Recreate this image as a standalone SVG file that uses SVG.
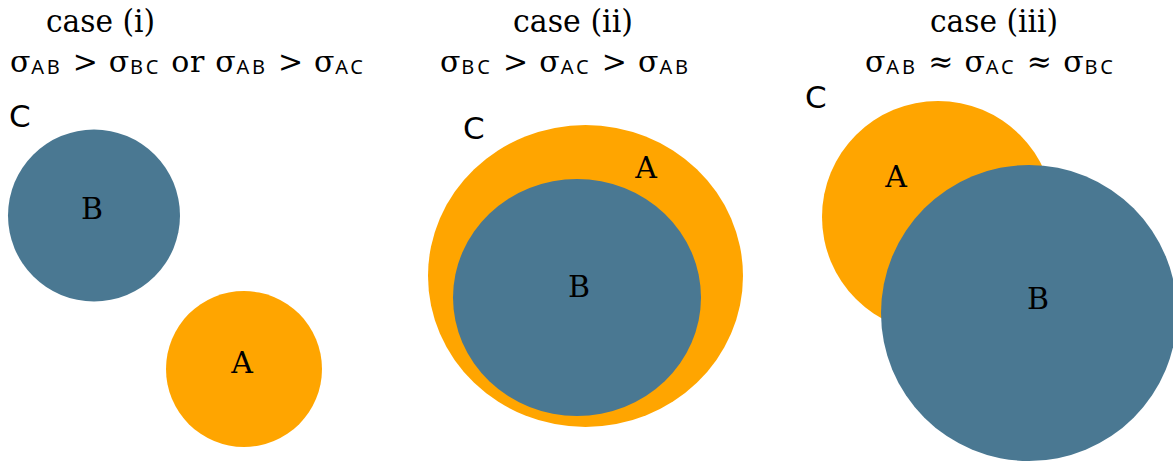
<svg xmlns="http://www.w3.org/2000/svg" width="1173" height="463" viewBox="0 0 1173 463">
<style>
.title{font-family:"DejaVu Serif","Liberation Serif",serif;font-size:31px;fill:#000}
.f{font-family:"DejaVu Serif","Liberation Serif",serif;font-size:30px;fill:#000}
.s{font-family:"Noto Sans","DejaVu Sans",sans-serif;font-size:20px;letter-spacing:2px}
.c{font-family:"DejaVu Sans","Liberation Sans",sans-serif;font-size:31px;fill:#000}
.lbl{font-family:"DejaVu Serif","Liberation Serif",serif;font-size:30px;fill:#000;text-anchor:middle}
.blue{fill:#4a7892}
.orange{fill:#ffa500}
</style>
<rect width="1173" height="463" fill="#fff"/>
<g id="case1">
<text class="title" x="46" y="32" textLength="109" lengthAdjust="spacingAndGlyphs">case (i)</text>
<text class="f" x="10" y="72" textLength="355" lengthAdjust="spacing">σ<tspan class="s" dy="2">AB</tspan><tspan dy="-2"> &gt; σ</tspan><tspan class="s" dy="2">BC</tspan><tspan dy="-2"> or σ</tspan><tspan class="s" dy="2">AB</tspan><tspan dy="-2"> &gt; σ</tspan><tspan class="s" dy="2">AC</tspan></text>
<text class="c" x="9" y="127">C</text>
<g id="c1-B"><circle class="blue" cx="94" cy="215.5" r="86"/><text class="lbl" x="92" y="219">B</text></g>
<g id="c1-A"><circle class="orange" cx="244" cy="369" r="78"/><text class="lbl" x="242" y="373">A</text></g>
</g>
<g id="case2">
<text class="title" x="513" y="32" textLength="120" lengthAdjust="spacingAndGlyphs">case (ii)</text>
<text class="f" x="440" y="72" textLength="250" lengthAdjust="spacing">σ<tspan class="s" dy="2">BC</tspan><tspan dy="-2"> &gt; σ</tspan><tspan class="s" dy="2">AC</tspan><tspan dy="-2"> &gt; σ</tspan><tspan class="s" dy="2">AB</tspan></text>
<text class="c" x="463" y="139">C</text>
<g id="c2-A"><ellipse class="orange" cx="585.5" cy="276" rx="157.5" ry="151"/><text class="lbl" x="646" y="178">A</text></g>
<g id="c2-B"><ellipse class="blue" cx="577" cy="297.5" rx="124" ry="118.5"/><text class="lbl" x="579" y="297">B</text></g>
</g>
<g id="case3">
<text class="title" x="930" y="32" textLength="128" lengthAdjust="spacingAndGlyphs">case (iii)</text>
<text class="f" x="865" y="72" textLength="250" lengthAdjust="spacing">σ<tspan class="s" dy="2">AB</tspan><tspan dy="-2"> ≈ σ</tspan><tspan class="s" dy="2">AC</tspan><tspan dy="-2"> ≈ σ</tspan><tspan class="s" dy="2">BC</tspan></text>
<text class="c" x="805" y="108">C</text>
<g id="c3-A"><ellipse class="orange" cx="938" cy="217" rx="116" ry="116"/><text class="lbl" x="896" y="187">A</text></g>
<g id="c3-B"><circle class="blue" cx="1029" cy="313" r="148"/><text class="lbl" x="1038" y="309">B</text></g>
</g>
<g id="connectors"/>
</svg>
